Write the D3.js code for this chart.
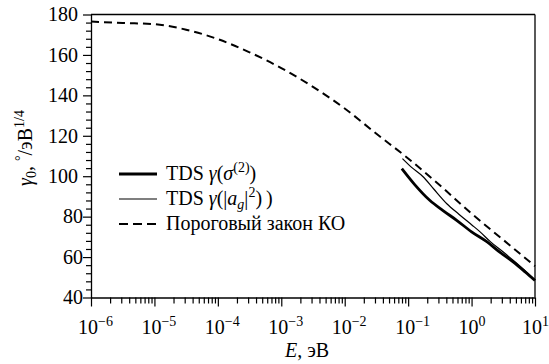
<!DOCTYPE html>
<html><head><meta charset="utf-8">
<script src="https://cdn.jsdelivr.net/npm/d3@7"></script>
<style>
html,body{margin:0;padding:0;background:#fff;}
#c text, #c tspan{font-family:"Liberation Serif" !important;}
</style></head>
<body><svg id="c" width="549" height="364" style="font-family:'Liberation Serif'"></svg>
<script>
// ---- data (log10 of E in eV, gamma0 values) ----
const thresholdLogE = [-6, -5.5, -5, -4.5, -4, -3.5, -3, -2.5, -2, -1.5, -1, -0.5, 0, 0.5, 1];
const thresholdVals = [176.5, 175.8, 175.2, 172.5, 167.8, 161.3, 153.5, 144.2, 133.5, 121, 108.8, 95.5, 81.5, 68.5, 55.5];
const sigmaLogE = [-1.1, -0.9, -0.66, -0.45, -0.235, 0, 0.24, 0.45, 0.66, 0.85, 1];
const sigmaVals = [103.8, 96, 88.1, 83, 78.2, 72.5, 67.6, 62.3, 57.5, 52.5, 48.4];
const agLogE = [-1.09, -0.95, -0.76, -0.6, -0.39, -0.2, 0, 0.13, 0.3, 0.5, 0.66, 0.8, 1];
const agVals = [108.7, 104.5, 99.6, 93.8, 86.4, 81.2, 76, 72.6, 67.5, 62.5, 58.3, 54.5, 48.8];
const xDecades = [-6, -5, -4, -3, -2, -1, 0, 1];
const yTickLabels = [40, 60, 80, 100, 120, 140, 160, 180];
const legendLabels = ["TDS", "TDS", "Пороговый закон КО"];

const svg = d3.select("#c");
const L = 91, R = 535, T = 14.5, B = 297.5;
const x = d3.scaleLog().domain([1e-6, 1e1]).range([L, R]);
const y = d3.scaleLinear().domain([40, 180]).range([B, T]);
const txt = (sel) => sel.append("text").style("font-family", "Liberation Serif").attr("fill", "#000");

// lines first (under axes/text)
const line = d3.line().x(d => x(Math.pow(10, d[0]))).y(d => y(d[1])).curve(d3.curveMonotoneX);
const zip = (a, b) => a.map((v, i) => [v, b[i]]);
svg.append("path").datum(zip(thresholdLogE, thresholdVals)).attr("d", line)
  .attr("fill", "none").attr("stroke", "#000").attr("stroke-width", 2).attr("stroke-dasharray", "8,5");
svg.append("path").datum(zip(agLogE, agVals)).attr("d", line)
  .attr("fill", "none").attr("stroke", "#000").attr("stroke-width", 1.2);
svg.append("path").datum(zip(sigmaLogE, sigmaVals)).attr("d", line)
  .attr("fill", "none").attr("stroke", "#000").attr("stroke-width", 2.8);

// x axis ticks
const xTicks = [];
xDecades.forEach((d, i) => {
  if (i < xDecades.length - 1) for (let m = 1; m <= 9; m++) xTicks.push(m * Math.pow(10, d));
  else xTicks.push(Math.pow(10, d));
});
const xAxis = svg.append("g").attr("transform", `translate(0,${B})`)
  .call(d3.axisBottom(x).tickValues(xTicks).tickFormat("").tickSizeOuter(0));
xAxis.attr("font-family", null);
xAxis.selectAll(".tick text").remove();
xAxis.selectAll(".tick line").attr("y2", d => {
  const l = Math.log10(d); return Math.abs(l - Math.round(l)) < 1e-9 ? 9 : 6;
}).attr("stroke-width", 1.2);
xAxis.select(".domain").attr("stroke-width", 1.3);

// y axis
const yTicks = d3.range(40, 180.1, 4);
const yAxis = svg.append("g").attr("transform", `translate(${L},0)`)
  .call(d3.axisLeft(y).tickValues(yTicks).tickFormat("").tickSizeOuter(0));
yAxis.attr("font-family", null);
yAxis.selectAll(".tick text").remove();
yAxis.selectAll(".tick line").attr("x2", d => (d % 20 === 0 ? -8 : -5)).attr("stroke-width", 1.2);
yAxis.select(".domain").attr("stroke-width", 1.3);

// frame top/right
svg.append("line").attr("x1", L).attr("x2", R).attr("y1", T).attr("y2", T).attr("stroke", "#000").attr("stroke-width", 1.3);
svg.append("line").attr("x1", R).attr("x2", R).attr("y1", T).attr("y2", B).attr("stroke", "#000").attr("stroke-width", 1.3);

// x labels
xDecades.forEach(d => {
  const t = txt(svg).attr("x", x(Math.pow(10, d)) - 13).attr("y", 334).attr("font-size", 20);
  t.append("tspan").text("10");
  t.append("tspan").attr("dy", -8).attr("font-size", 14).text(d < 0 ? "\u2212" + Math.abs(d) : String(d));
});

// y labels
yTickLabels.forEach(v => {
  txt(svg).attr("x", String(v).length === 3 ? 78 : 83).attr("y", y(v)).attr("dy", "0.34em")
    .attr("text-anchor", "end").attr("font-size", 20).text(v);
});

// legend
const lg = [{y: 174, w: 3, dash: null}, {y: 199, w: 1.2, dash: null}, {y: 224, w: 2, dash: "9,5"}];
lg.forEach((s) => {
  const ln = svg.append("line").attr("x1", 119).attr("x2", 157).attr("y1", s.y).attr("y2", s.y)
    .attr("stroke", "#000").attr("stroke-width", s.w);
  if (s.dash) ln.attr("stroke-dasharray", s.dash);
});
const fs = 20, fss = 14;
let t1 = txt(svg).attr("x", 166).attr("y", 180).attr("font-size", fs);
t1.append("tspan").text(legendLabels[0] + " ");
t1.append("tspan").style("font-style", "italic").text("γ");
t1.append("tspan").text("(");
t1.append("tspan").style("font-style", "italic").text("σ");
t1.append("tspan").attr("dy", -8).attr("font-size", fss).text("(2)");
t1.append("tspan").attr("dy", 8).text(")");
let t2 = txt(svg).attr("x", 166).attr("y", 205).attr("font-size", fs);
t2.append("tspan").text(legendLabels[1] + " ");
t2.append("tspan").style("font-style", "italic").text("γ");
t2.append("tspan").text("(|");
t2.append("tspan").style("font-style", "italic").text("a");
t2.append("tspan").attr("dy", 4).attr("font-size", fss).style("font-style", "italic").text("g");
t2.append("tspan").attr("dy", -4).text("|");
t2.append("tspan").attr("dy", -8).attr("font-size", fss).text("2");
t2.append("tspan").attr("dy", 8).text(")\u2009)");
txt(svg).attr("x", 166).attr("y", 230).attr("font-size", fs).text(legendLabels[2]);

// axis titles
const xt = txt(svg).attr("x", 307).attr("y", 357).attr("text-anchor", "middle").attr("font-size", fs);
xt.append("tspan").style("font-style", "italic").text("E");
xt.append("tspan").text(", эВ");

const yt = txt(svg).attr("transform", "translate(32,148) rotate(-90)").attr("text-anchor", "middle").attr("font-size", fs);
yt.append("tspan").style("font-style", "italic").text("γ");
yt.append("tspan").attr("dy", 4).attr("font-size", fss).text("0");
yt.append("tspan").attr("dy", -4).text(", ");
yt.append("tspan").attr("dy", -7).attr("font-size", fss).text("°");
yt.append("tspan").attr("dy", 7).text("/эВ");
yt.append("tspan").attr("dy", -8).attr("font-size", fss).text("1/4");
</script></body></html>
